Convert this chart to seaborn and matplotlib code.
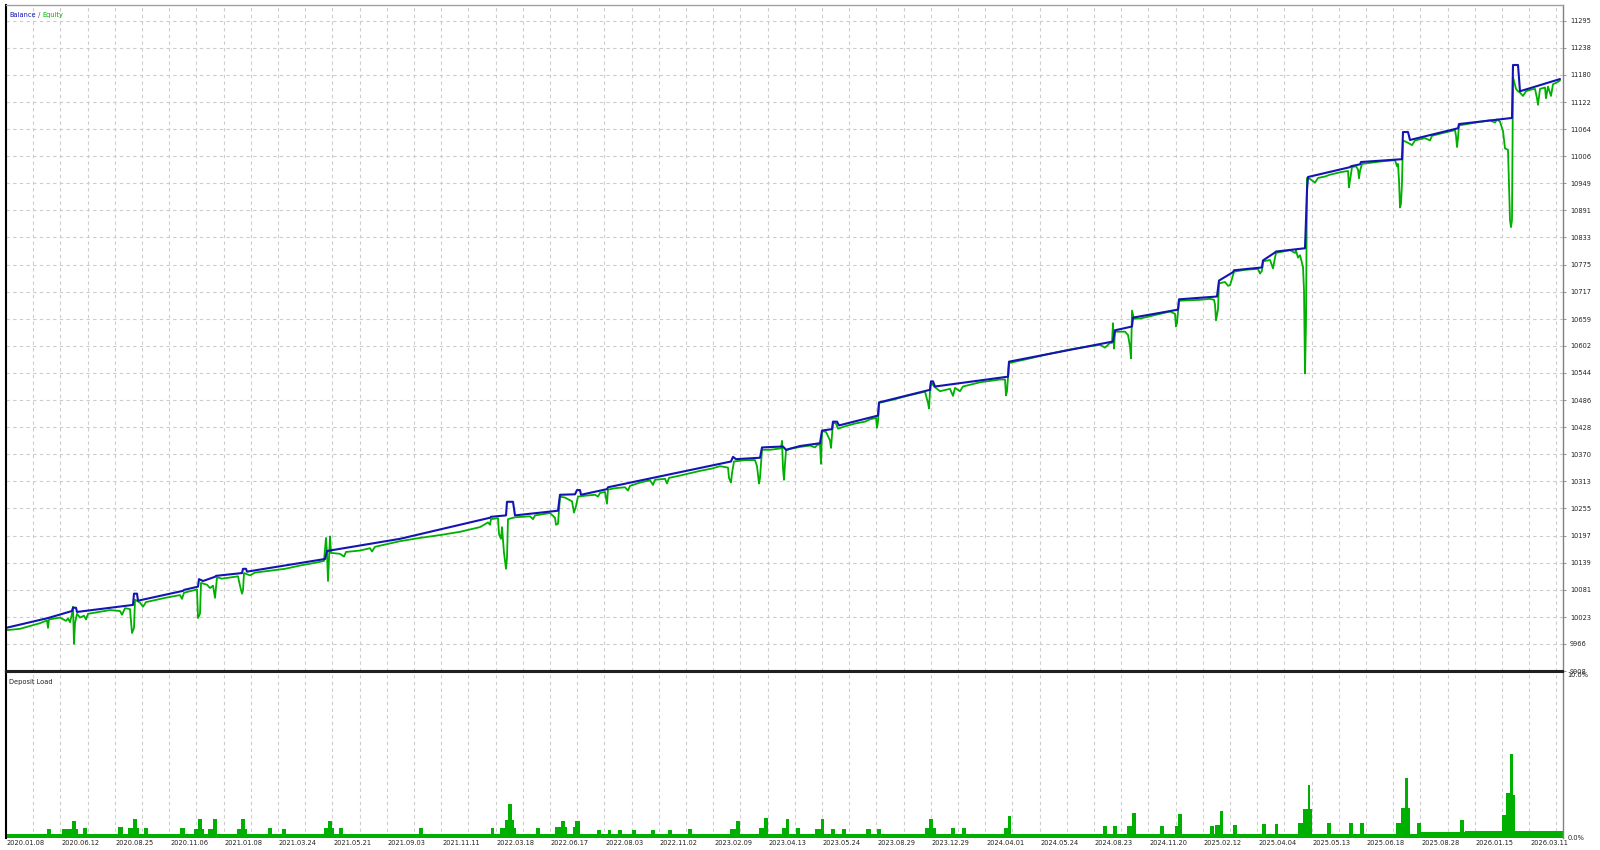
"""
Strategy tester report: Balance / Equity and Deposit Load panels.
"""

import matplotlib
matplotlib.use("Agg")
import matplotlib.pyplot as plt
import matplotlib.transforms as mtransforms
import pandas as pd
import seaborn as sns

# balance curve: (deal index, balance)
balance = [
    (6, 10000), (48, 10021), (72, 10036), (73, 10043), (76, 10043), (77, 10034),
    (133, 10049), (134, 10073), (137, 10073), (138, 10058), (183, 10079), (184, 10081),
    (198, 10088), (199, 10104), (203, 10100), (215, 10109), (216, 10111), (242, 10117),
    (243, 10126), (246, 10126), (247, 10120), (325, 10147), (327, 10164), (400, 10190),
    (490, 10235), (491, 10237), (506, 10240), (507, 10269), (513, 10269), (515, 10240),
    (558, 10250), (560, 10284), (575, 10285), (577, 10294), (580, 10294), (581, 10284),
    (607, 10296), (608, 10300), (731, 10355), (733, 10365), (736, 10360), (760, 10363),
    (762, 10385), (783, 10387), (786, 10380), (800, 10388), (820, 10394), (822, 10421),
    (832, 10424), (833, 10440), (837, 10440), (839, 10432), (878, 10453), (879, 10481),
    (930, 10508), (931, 10526), (933, 10526), (935, 10515), (1008, 10536), (1009, 10568),
    (1113, 10611), (1115, 10635), (1132, 10643), (1133, 10662), (1178, 10679), (1179, 10701),
    (1217, 10707), (1219, 10741), (1233, 10759), (1234, 10763), (1262, 10769), (1263, 10784),
    (1275, 10801), (1276, 10803), (1305, 10810), (1306, 10870), (1307, 10934), (1308, 10962),
    (1350, 10983), (1351, 10985), (1360, 10989), (1361, 10994), (1402, 11000), (1403, 11058),
    (1408, 11058), (1410, 11041), (1458, 11066), (1459, 11075), (1512, 11088), (1513, 11201),
    (1518, 11201), (1520, 11145), (1560, 11171),
]

# equity curve: (deal index, equity)
equity = [
    (6, 9995), (20, 9998), (40, 10010), (47, 10016), (48, 10000), (49, 10018), (60, 10022),
    (66, 10015), (68, 10020), (70, 10012), (72, 10030), (73, 10045), (74, 9966), (75, 10010),
    (77, 10030), (80, 10022), (84, 10026), (86, 10018), (88, 10030), (110, 10038), (120, 10036),
    (122, 10028), (125, 10042), (130, 10040), (132, 9989), (134, 10000), (135, 10060),
    (140, 10054), (143, 10045), (146, 10055), (165, 10064), (180, 10070), (182, 10062),
    (184, 10075), (197, 10082), (198, 10021), (200, 10030), (201, 10096), (207, 10092),
    (210, 10085), (213, 10090), (215, 10064), (217, 10108), (222, 10105), (238, 10110),
    (240, 10090), (242, 10073), (243, 10080), (244, 10117), (250, 10112), (255, 10118),
    (270, 10122), (285, 10126), (300, 10133), (318, 10140), (324, 10143), (326, 10192),
    (327, 10160), (328, 10100), (329, 10150), (330, 10195), (331, 10160), (340, 10158),
    (344, 10152), (346, 10162), (360, 10165), (370, 10170), (372, 10163), (375, 10173),
    (400, 10185), (420, 10192), (440, 10198), (460, 10205), (470, 10210), (480, 10215),
    (488, 10225), (490, 10220), (491, 10232), (498, 10234), (499, 10200), (501, 10190),
    (502, 10215), (504, 10160), (506, 10126), (507, 10150), (508, 10232), (515, 10236),
    (530, 10238), (533, 10232), (535, 10240), (550, 10245), (555, 10235), (556, 10220),
    (558, 10222), (560, 10280), (565, 10278), (572, 10270), (574, 10246), (576, 10260),
    (578, 10280), (585, 10282), (595, 10284), (598, 10280), (600, 10288), (605, 10290),
    (607, 10265), (608, 10295), (615, 10298), (625, 10300), (628, 10293), (630, 10303),
    (640, 10310), (650, 10315), (653, 10305), (655, 10316), (665, 10318), (667, 10308),
    (669, 10320), (680, 10325), (700, 10335), (712, 10340), (720, 10345), (728, 10342),
    (729, 10320), (731, 10310), (732, 10330), (734, 10355), (745, 10358), (755, 10358),
    (757, 10345), (759, 10308), (760, 10320), (762, 10380), (770, 10380), (781, 10383),
    (782, 10399), (783, 10340), (784, 10316), (785, 10350), (786, 10378), (790, 10382),
    (800, 10386), (810, 10389), (815, 10385), (817, 10390), (820, 10392), (821, 10350),
    (822, 10420), (826, 10418), (830, 10400), (831, 10384), (832, 10410), (833, 10438),
    (836, 10436), (838, 10425), (845, 10430), (855, 10436), (865, 10440), (870, 10445),
    (876, 10448), (877, 10427), (878, 10440), (879, 10480), (895, 10488), (905, 10494),
    (915, 10499), (925, 10504), (928, 10480), (929, 10468), (930, 10505), (931, 10525),
    (934, 10515), (940, 10505), (950, 10510), (953, 10495), (955, 10512), (960, 10505),
    (963, 10515), (980, 10524), (1000, 10530), (1005, 10530), (1006, 10496), (1007, 10505),
    (1009, 10565), (1030, 10575), (1050, 10585), (1070, 10594), (1090, 10601), (1100, 10604),
    (1105, 10598), (1110, 10608), (1112, 10608), (1113, 10650), (1114, 10596), (1115, 10632),
    (1125, 10632), (1128, 10625), (1130, 10600), (1131, 10575), (1132, 10677), (1134, 10660),
    (1140, 10660), (1150, 10665), (1160, 10670), (1170, 10675), (1175, 10670), (1176, 10643),
    (1177, 10650), (1179, 10698), (1200, 10700), (1210, 10702), (1214, 10700), (1215, 10690),
    (1216, 10656), (1218, 10680), (1219, 10735), (1225, 10738), (1228, 10730), (1230, 10731),
    (1232, 10745), (1234, 10760), (1245, 10764), (1258, 10766), (1260, 10756), (1262, 10762),
    (1263, 10782), (1270, 10785), (1273, 10767), (1275, 10790), (1276, 10800), (1290, 10806),
    (1295, 10800), (1296, 10805), (1298, 10790), (1300, 10795), (1303, 10770), (1304, 10720),
    (1305, 10543), (1306, 10650), (1307, 10960), (1310, 10958), (1315, 10950), (1318, 10960),
    (1325, 10963), (1330, 10967), (1340, 10972), (1348, 10975), (1349, 10940), (1350, 10955),
    (1352, 10983), (1356, 10985), (1358, 10978), (1359, 10959), (1360, 10975), (1362, 10990),
    (1380, 10995), (1395, 10998), (1397, 10985), (1398, 10990), (1399, 10955), (1400, 10897),
    (1401, 10905), (1402, 10950), (1403, 11040), (1408, 11035), (1412, 11030), (1415, 11040),
    (1425, 11045), (1430, 11040), (1432, 11050), (1445, 11057), (1455, 11062), (1456, 11050),
    (1457, 11026), (1458, 11045), (1459, 11072), (1475, 11078), (1490, 11083), (1495, 11078),
    (1497, 11085), (1500, 11080), (1503, 11060), (1505, 11023), (1508, 11020), (1510, 10870),
    (1511, 10855), (1512, 10870), (1513, 11175), (1516, 11150), (1518, 11145), (1520, 11142),
    (1523, 11135), (1526, 11145), (1530, 11148), (1535, 11150), (1537, 11130), (1538, 11116),
    (1540, 11150), (1545, 11153), (1546, 11130), (1548, 11155), (1551, 11135), (1553, 11160),
    (1558, 11165), (1560, 11168),
]

# deposit load: (first deal, last deal, load %)
deposit_load = [
    (6, 1420, 0.25), (1420, 1465, 0.35), (1465, 1563, 0.45),
    (47, 51, 0.55), (62, 72, 0.55), (72, 76, 1.05), (76, 78, 0.55), (83, 87, 0.6),
    (118, 123, 0.65), (128, 133, 0.6), (133, 137, 1.15), (137, 139, 0.6), (144, 148, 0.6),
    (180, 185, 0.6), (194, 198, 0.55), (198, 202, 1.15), (202, 204, 0.55), (208, 213, 0.55),
    (213, 217, 1.15), (237, 241, 0.55), (241, 245, 1.15), (245, 247, 0.55), (268, 272, 0.6),
    (282, 286, 0.55), (324, 328, 0.6), (328, 332, 1.05), (332, 334, 0.6), (339, 343, 0.6),
    (419, 423, 0.6), (491, 494, 0.6), (500, 505, 0.6), (505, 508, 1.1), (508, 512, 2.05),
    (512, 514, 1.1), (514, 516, 0.6), (536, 540, 0.6), (555, 561, 0.65), (561, 565, 1.05),
    (565, 567, 0.65), (573, 575, 0.65), (575, 580, 1.05), (597, 601, 0.5), (608, 611, 0.5),
    (618, 622, 0.5), (632, 636, 0.5), (651, 655, 0.5), (668, 672, 0.5), (688, 692, 0.55),
    (730, 736, 0.55), (736, 740, 1.05), (759, 764, 0.6), (764, 768, 1.2), (782, 786, 0.6),
    (786, 789, 1.15), (796, 800, 0.6), (815, 821, 0.55), (821, 824, 1.15), (831, 835, 0.55),
    (842, 846, 0.55), (866, 871, 0.55), (877, 881, 0.55), (925, 929, 0.6), (929, 933, 1.15),
    (933, 936, 0.6), (951, 955, 0.6), (962, 966, 0.6), (1004, 1008, 0.6), (1008, 1011, 1.3),
    (1103, 1107, 0.75), (1113, 1117, 0.75), (1127, 1132, 0.75), (1132, 1136, 1.5),
    (1160, 1164, 0.75), (1175, 1178, 0.75), (1178, 1182, 1.45), (1210, 1214, 0.75),
    (1215, 1220, 0.8), (1220, 1223, 1.6), (1233, 1237, 0.8), (1262, 1266, 0.85),
    (1275, 1278, 0.85), (1298, 1303, 0.9), (1303, 1308, 1.75), (1308, 1310, 3.2),
    (1310, 1312, 1.75), (1327, 1331, 0.9), (1349, 1353, 0.9), (1360, 1364, 0.9),
    (1396, 1401, 0.9), (1401, 1405, 1.8), (1405, 1408, 3.6), (1408, 1410, 1.8),
    (1417, 1421, 0.9), (1460, 1464, 1.1), (1502, 1506, 1.4), (1506, 1510, 2.7),
    (1510, 1513, 5.05), (1513, 1515, 2.6),
]

date_labels = [
    "2020.01.08", "2020.06.12", "2020.08.25", "2020.11.06", "2021.01.08", "2021.03.24",
    "2021.05.21", "2021.09.03", "2021.11.11", "2022.03.18", "2022.06.17", "2022.08.03",
    "2022.11.02", "2023.02.09", "2023.04.13", "2023.05.24", "2023.08.29", "2023.12.29",
    "2024.04.01", "2024.05.24", "2024.08.23", "2024.11.20", "2025.02.12", "2025.04.04",
    "2025.05.13", "2025.06.18", "2025.08.28", "2026.01.15", "2026.03.11",
]

value_ticks = [
    9908, 9966, 10023, 10081, 10139, 10197, 10255, 10313, 10370, 10428, 10486, 10544,
    10602, 10659, 10717, 10775, 10833, 10891, 10949, 11006, 11064, 11122, 11180, 11238,
    11295,
]

BLUE = "#1414b4"
GREEN = "#00b000"
GRID = "#cccccc"
FONT = 4.8

sns.set_style("white")
plt.rcParams["font.family"] = ["DejaVu Sans"]

bal_df = pd.DataFrame(balance, columns=["deal", "value"])
eq_df = pd.DataFrame(equity, columns=["deal", "value"])
load_df = pd.DataFrame(deposit_load, columns=["start", "end", "load"])

fig = plt.figure(figsize=(16, 8.5), dpi=100)
W, H = 1600, 850
ax = fig.add_axes([6 / W, 1 - 671 / H, 1557 / W, 666 / H])
ax2 = fig.add_axes([6 / W, 1 - 838 / H, 1557 / W, 166 / H], sharex=ax)

# lines
sns.lineplot(data=eq_df, x="deal", y="value", ax=ax, color=GREEN,
             linewidth=1.3, estimator=None, sort=False)
sns.lineplot(data=bal_df, x="deal", y="value", ax=ax, color=BLUE,
             linewidth=1.5, estimator=None, sort=False)

# deposit load bars
ax2.bar(load_df["start"], load_df["load"], width=load_df["end"] - load_df["start"],
        bottom=0, align="edge", color=GREEN, linewidth=0)

# x grid every half label step
n_grid = 2 * (len(date_labels) - 1) + 1
step = 54.4 / 2
grid_pos = [6 + step * k for k in range(n_grid + 1)]
labels = []
for k in range(n_grid + 1):
    labels.append(date_labels[k // 2] if k % 2 == 0 and k // 2 < len(date_labels) else "")

ax.set_xlim(6, 1563)
ax.set_ylim(9908, 11329)
ax2.set_ylim(0, 10)

for a in (ax, ax2):
    a.set_xticks(grid_pos)
    a.grid(True, axis="x", color=GRID, linestyle=(0, (3, 3)), linewidth=0.8)
    a.set_xlabel("")
    a.set_ylabel("")
    a.set_facecolor("white")
    a.set_axisbelow(True)

ax.grid(True, axis="y", color=GRID, linestyle=(0, (3, 3)), linewidth=0.8)
ax.set_yticks(value_ticks)
ax.set_yticklabels([str(v) for v in value_ticks])
ax.yaxis.tick_right()
ax.tick_params(axis="y", direction="out", length=2, width=0.6, color="#808080",
               labelsize=FONT, pad=3, labelcolor="#222222")
ax.tick_params(axis="x", length=0, labelbottom=False)

ax2.set_yticks([0, 10])
ax2.set_yticklabels(["0.0%", "10.0%"])
ax2.yaxis.tick_right()
ax2.tick_params(axis="y", length=0, labelsize=FONT, pad=3, labelcolor="#222222")
ax2.get_yticklabels()[1].set_verticalalignment("top")
ax2.set_xticklabels(labels)
ax2.tick_params(axis="x", length=0, labelsize=FONT, pad=1.5, labelcolor="#222222")
shift = mtransforms.ScaledTranslation(1 / 100, 0, fig.dpi_scale_trans)
for lab in ax2.get_xticklabels():
    lab.set_horizontalalignment("left")
    lab.set_transform(lab.get_transform() + shift)

# frames
for a in (ax, ax2):
    a.spines["left"].set_color("black")
    a.spines["left"].set_linewidth(1.5)
    a.spines["right"].set_color("#808080")
    a.spines["right"].set_linewidth(1.0)
ax.spines["top"].set_color("#a0a0a0")
ax.spines["top"].set_linewidth(1.0)
ax.spines["bottom"].set_color("#202020")
ax.spines["bottom"].set_linewidth(1.5)
ax2.spines["top"].set_color("#202020")
ax2.spines["top"].set_linewidth(1.5)
ax2.spines["bottom"].set_visible(False)

# panel titles
ax.text(0.002, 0.99, "Balance", color=BLUE, fontsize=FONT, va="top", ha="left",
        transform=ax.transAxes)
ax.annotate(" / ", xy=(1, 0), xycoords=ax.texts[-1], fontsize=FONT, color="#555555",
            va="bottom", ha="left")
ax.annotate("Equity", xy=(1, 0), xycoords=ax.texts[-1], fontsize=FONT, color=GREEN,
            va="bottom", ha="left")
ax2.text(0.002, 0.96, "Deposit Load", color="#222222", fontsize=FONT, va="top",
         ha="left", transform=ax2.transAxes)

fig.savefig("out.png", dpi=100, facecolor="white")
plt.close(fig)
